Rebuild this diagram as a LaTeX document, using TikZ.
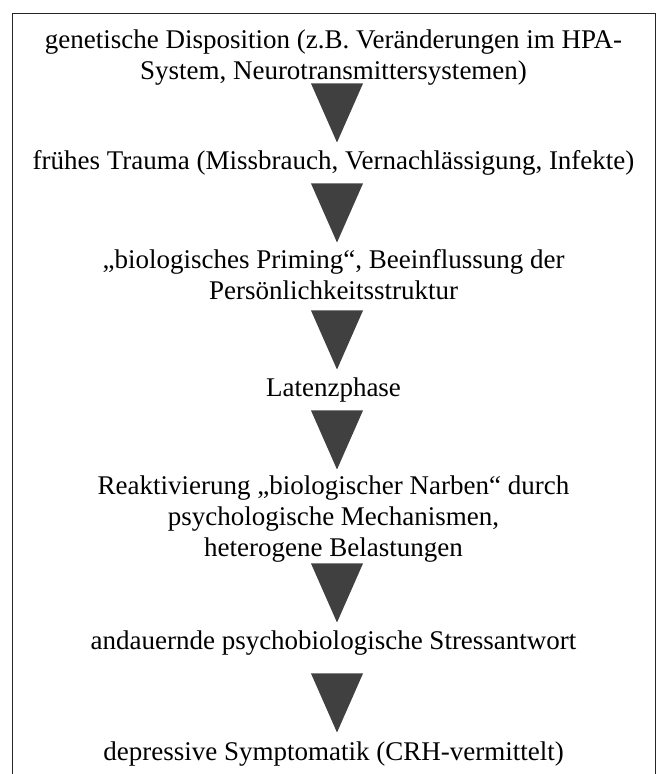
\documentclass[tikz,border=0pt]{standalone}
\usepackage{fontspec}
\setmainfont{Liberation Serif}
\usetikzlibrary{shapes.geometric}
\definecolor{pfeilgrau}{HTML}{404040}
\tikzset{
  stufe/.style={anchor=base, align=center, inner sep=0pt,
    font=\fontsize{27}{31}\selectfont},
  pfeil/.style={isosceles triangle, shape border rotate=270,
    isosceles triangle stretches, minimum width=52pt, minimum height=59pt,
    inner sep=0pt, fill=pfeilgrau, draw=none}
}
\begin{document}
\begin{tikzpicture}[x=1pt,y=-1pt]
\useasboundingbox (0,0) rectangle (661,774);
% Rahmen (unten offen)
\draw[line width=1pt, black!85] (12,774) -- (12,13) -- (655,13) -- (655,774);
% Stufen (base = Grundlinie der letzten Zeile)
\node[stufe] (gen) at (333.5,79) {genetische Disposition (z.B. Veränderungen im HPA-\\System, Neurotransmittersystemen)};
\node[stufe] (trauma) at (333.5,169) {frühes Trauma (Missbrauch, Vernachlässigung, Infekte)};
\node[stufe] (prim) at (333.5,299) {„biologisches Priming“, Beeinflussung der\\Persönlichkeitsstruktur};
\node[stufe] (lat) at (333.5,396) {Latenzphase};
\node[stufe] (reakt) at (333.5,556) {Reaktivierung „biologischer Narben“ durch\\psychologische Mechanismen,\\heterogene Belastungen};
\node[stufe] (stress) at (333.5,649) {andauernde psychobiologische Stressantwort};
\node[stufe] (dep) at (333.5,760) {depressive Symptomatik (CRH-vermittelt)};
% Pfeile
\foreach \name/\t in {p1/84, p2/184, p3/311, p4/411, p5/564, p6/674}
  \node[pfeil, anchor=apex] (\name) at (337,\t+59) {};
\end{tikzpicture}
\end{document}
